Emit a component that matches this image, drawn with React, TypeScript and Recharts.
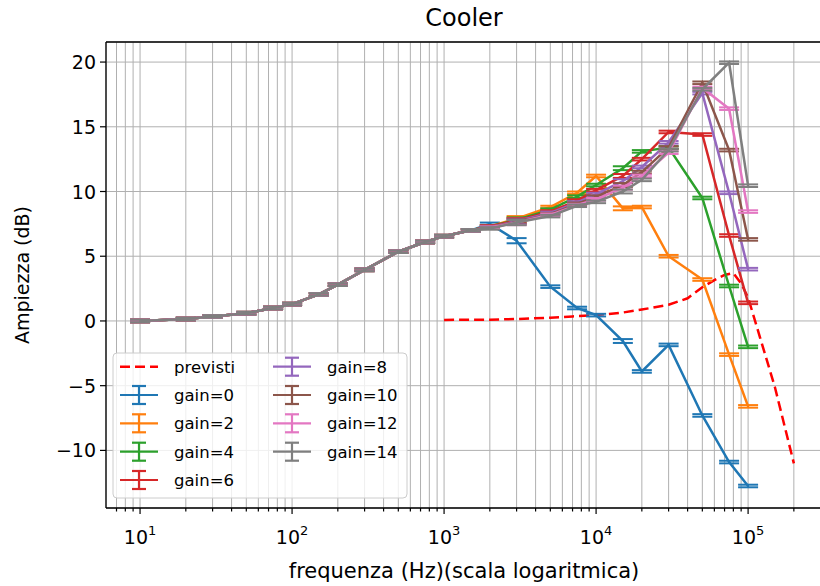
import { LineChart, Line, XAxis, YAxis, CartesianGrid, ErrorBar } from 'recharts';

// frequencies (Hz) of the measured points
const FREQ = [10, 20, 30, 50, 75, 100, 150, 200, 300, 500, 750, 1000, 1500, 2000, 3000, 5000, 7500, 10000, 15000, 20000, 30000, 50000, 75000, 100000];

// all gains overlap up to 1.5 kHz
const LOW = [0.0, 0.15, 0.35, 0.6, 1.0, 1.3, 2.05, 2.8, 3.95, 5.35, 6.1, 6.55, 7.0];

const GAIN0 = [...LOW, 7.5, 6.2, 2.65, 1.0, 0.45, -1.55, -3.9, -1.85, -7.3, -10.9, -12.75];
const GAIN2 = [...LOW, 7.3, 7.9, 8.8, 9.9, 11.2, 8.7, 8.8, 5.0, 3.2, -2.6, -6.6];
const GAIN4 = [...LOW, 7.3, 7.8, 8.6, 9.6, 10.5, 11.8, 13.1, 13.4, 9.5, 2.7, -2.0];
const GAIN6 = [...LOW, 7.3, 7.75, 8.45, 9.3, 10.1, 11.2, 12.5, 14.6, 14.4, 6.6, 1.4];
const GAIN8 = [...LOW, 7.25, 7.7, 8.35, 9.15, 9.8, 10.8, 11.9, 13.8, 17.6, 9.9, 4.0];
const GAIN10 = [...LOW, 7.2, 7.65, 8.25, 9.05, 9.6, 10.5, 11.5, 13.4, 18.4, 13.2, 6.3];
const GAIN12 = [...LOW, 7.2, 7.6, 8.2, 8.95, 9.4, 10.3, 11.2, 13.0, 18.0, 16.4, 8.45];
const GAIN14 = [...LOW, 7.15, 7.6, 8.1, 8.9, 9.2, 10.0, 10.9, 13.2, 17.9, 19.95, 10.45];

// error on each measured point (dB)
const ERR = [0.1, 0.1, 0.1, 0.1, 0.1, 0.1, 0.1, 0.1, 0.1, 0.1, 0.1, 0.1, 0.1, 0.1, 0.2, 0.1, 0.1, 0.1, 0.15, 0.1, 0.1, 0.1, 0.1, 0.1];

// predicted curve
const PREV_F = [1000, 2000, 3000, 5000, 7000, 10000, 15000, 20000, 30000, 40000, 50000, 60000, 70000, 80000, 90000, 100000, 120000, 150000, 200000];
const PREV_DB = [0.08, 0.1, 0.15, 0.25, 0.35, 0.45, 0.65, 0.88, 1.25, 1.75, 2.6, 3.15, 3.55, 3.7, 2.9, 1.8, -1.3, -5.1, -11.0];

const SERIES = [
  { key: 'g0', name: 'gain=0', values: GAIN0, color: '#1f77b4' },
  { key: 'g2', name: 'gain=2', values: GAIN2, color: '#ff7f0e' },
  { key: 'g4', name: 'gain=4', values: GAIN4, color: '#2ca02c' },
  { key: 'g6', name: 'gain=6', values: GAIN6, color: '#d62728' },
  { key: 'g8', name: 'gain=8', values: GAIN8, color: '#9467bd' },
  { key: 'g10', name: 'gain=10', values: GAIN10, color: '#8c564b' },
  { key: 'g12', name: 'gain=12', values: GAIN12, color: '#e377c2' },
  { key: 'g14', name: 'gain=14', values: GAIN14, color: '#7f7f7f' },
];

const X_MAJOR = [10, 100, 1000, 10000, 100000];
const X_MINOR_MULT = [2, 3, 4, 5, 6, 7, 8, 9];
const Y_TICKS = [-10, -5, 0, 5, 10, 15, 20];

const rows = FREQ.map((f, i) => {
  const r: any = { f, e: ERR[i] };
  SERIES.forEach((s) => (r[s.key] = s.values[i]));
  return r;
});
const prevRows = PREV_F.map((f, i) => ({ f, v: PREV_DB[i] }));

const xTicks: number[] = [7, 8, 9];
X_MAJOR.forEach((m) => {
  xTicks.push(m);
  X_MINOR_MULT.forEach((k) => {
    if (m * k <= 300000) xTicks.push(m * k);
  });
});

const FONT = 'DejaVu Sans, sans-serif';

const XTick = (props: any) => {
  const { x, y, payload } = props;
  const v = payload.value;
  const exp = Math.round(Math.log10(v));
  const major = Math.abs(Math.pow(10, exp) - v) < 1e-6 * v;
  return (
    <g>
      <line x1={x} x2={x} y1={y} y2={y + (major ? 6 : 3.5)} stroke="#000" strokeWidth={1.2} />
      {major && (
        <text x={x} y={y + 36} textAnchor="middle" fontSize={19} fill="#000" fontFamily={FONT}>
          10<tspan dy={-9} fontSize={13}>{exp}</tspan>
        </text>
      )}
    </g>
  );
};

const YTick = (props: any) => {
  const { x, y, payload } = props;
  const v = payload.value;
  const label = v < 0 ? '\u2212' + Math.abs(v) : String(v);
  return (
    <g>
      <line x1={x - 6} x2={x} y1={y} y2={y} stroke="#000" strokeWidth={1.2} />
      <text x={x - 10} y={y + 7} textAnchor="end" fontSize={19} fill="#000" fontFamily={FONT}>
        {label}
      </text>
    </g>
  );
};

function LegendOverlay() {
  const rowY = [366.7, 395, 423.3, 451.7, 480];
  const col1 = [{ dashed: true, name: 'previsti', color: '#ff0000' }, ...SERIES.slice(0, 4)];
  const col2 = SERIES.slice(4);
  const handle = (hx: number, y: number, item: any, i: number) => {
    const cx = hx + 19;
    return (
      <g key={i}>
        {item.dashed ? (
          <line x1={hx} x2={hx + 38} y1={y} y2={y} stroke={item.color} strokeWidth={2.5} strokeDasharray="10 5" />
        ) : (
          <g stroke={item.color} strokeWidth={2.2}>
            <line x1={hx} x2={hx + 38} y1={y} y2={y} />
            <line x1={cx} x2={cx} y1={y - 9} y2={y + 9} />
            <line x1={cx - 7} x2={cx + 7} y1={y - 9} y2={y - 9} />
            <line x1={cx - 7} x2={cx + 7} y1={y + 9} y2={y + 9} />
          </g>
        )}
        <text x={hx + 54} y={y + 6} fontSize={16.5} fill="#000" fontFamily={FONT}>
          {item.name}
        </text>
      </g>
    );
  };
  return (
    <g>
      <rect x={113} y={353} width={294} height={145} rx={4} fill="#fff" fillOpacity={0.8} stroke="#cccccc" />
      {col1.map((it, i) => handle(120, rowY[i], it, i))}
      {col2.map((it, i) => handle(273, rowY[i], it, 10 + i))}
    </g>
  );
}

export default function App() {
  return (
    <div style={{ position: 'absolute', left: 0, top: 0, width: 820, height: 586, overflow: 'hidden', background: '#fff' }}>
      <LineChart width={830} height={586} data={rows} margin={{ top: 42, right: 7, bottom: 0, left: 46 }}>
        <CartesianGrid stroke="#b0b0b0" strokeWidth={1} />
        <XAxis
          dataKey="f"
          type="number"
          scale="log"
          domain={[5.97, 311000]}
          allowDataOverflow
          ticks={xTicks}
          interval={0}
          tickSize={0}
          tickMargin={0}
          height={78}
          axisLine={{ stroke: '#000', strokeWidth: 1.3 }}
          tick={<XTick />}
        />
        <YAxis
          type="number"
          domain={[-14.45, 21.55]}
          allowDataOverflow
          ticks={Y_TICKS}
          interval={0}
          tickSize={0}
          tickMargin={0}
          width={60}
          axisLine={{ stroke: '#000', strokeWidth: 1.3 }}
          tick={<YTick />}
        />
        <Line
          data={prevRows}
          dataKey="v"
          stroke="#ff0000"
          strokeWidth={2.5}
          strokeDasharray="10 5"
          dot={false}
          isAnimationActive={false}
        />
        {SERIES.map((s) => (
          <Line
            key={s.key}
            dataKey={s.key}
            stroke={s.color}
            strokeWidth={2.5}
            dot={false}
            isAnimationActive={false}
          >
            <ErrorBar dataKey="e" width={10} stroke={s.color} strokeWidth={2} direction="y" isAnimationActive={false} />
          </Line>
        ))}
      </LineChart>
      <svg width={820} height={586} style={{ position: 'absolute', left: 0, top: 0, pointerEvents: 'none' }}>
        <line x1={106} x2={820} y1={42} y2={42} stroke="#000" strokeWidth={1.3} />
        <text x={464} y={26} textAnchor="middle" fontSize={24} fill="#000" fontFamily={FONT}>
          Cooler
        </text>
        <text x={464} y={578} textAnchor="middle" fontSize={21} fill="#000" fontFamily={FONT}>
          frequenza (Hz)(scala logaritmica)
        </text>
        <text
          x={22}
          y={275}
          textAnchor="middle"
          dominantBaseline="central"
          transform="rotate(-90 22 275)"
          fontSize={19}
          fill="#000"
          fontFamily={FONT}
        >
          Ampiezza (dB)
        </text>
        <LegendOverlay />
      </svg>
    </div>
  );
}
